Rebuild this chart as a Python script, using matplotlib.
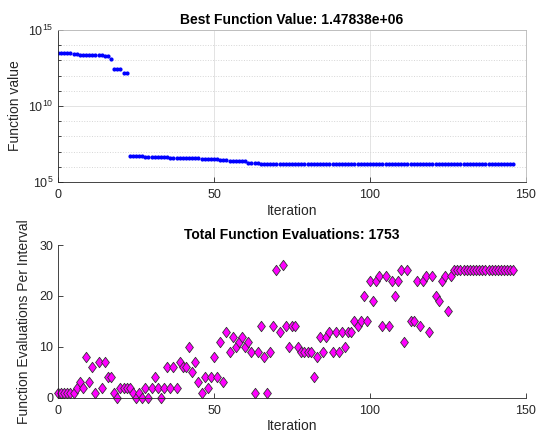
import matplotlib
matplotlib.use("Agg")
import matplotlib.pyplot as plt
import numpy as np
from matplotlib.ticker import NullFormatter

plt.rcParams['font.family'] = ['Liberation Sans', 'DejaVu Sans']

# best function value per iteration
best_f = [
    3.0e13, 3.0e13, 3.0e13, 3.0e13, 3.0e13,
    2.7e13, 2.7e13,
    2.2e13, 2.15e13, 2.15e13, 2.15e13, 2.15e13, 2.15e13, 2.15e13, 2.15e13, 2.1e13, 2.1e13,
    1.3e13,
    2.6e12, 2.6e12, 2.6e12,
    1.5e12, 1.5e12,
    5.2e6, 5.1e6, 5.0e6, 4.9e6, 4.8e6, 4.7e6, 4.6e6, 4.5e6,
    4.45e6, 4.4e6, 4.3e6, 4.25e6, 4.2e6, 4.1e6, 4.05e6, 4.0e6, 3.95e6, 3.9e6,
    3.85e6, 3.8e6, 3.75e6, 3.7e6, 3.65e6, 3.35e6, 3.3e6, 3.3e6, 3.3e6, 3.3e6,
    3.3e6,
    2.75e6, 2.75e6, 2.7e6,
    2.35e6, 2.35e6, 2.35e6, 2.35e6, 2.35e6, 2.35e6,
    1.75e6, 1.72e6,
    1.68e6, 1.66e6, 1.64e6, 1.62e6, 1.6e6, 1.59e6, 1.58e6, 1.57e6,
    1.56e6, 1.555e6, 1.55e6, 1.545e6, 1.54e6, 1.536e6, 1.532e6, 1.528e6, 1.525e6, 1.522e6,
    1.518e6, 1.516e6, 1.514e6, 1.512e6, 1.51e6, 1.508e6, 1.506e6, 1.504e6, 1.502e6, 1.5e6,
    1.499e6, 1.498e6, 1.497e6, 1.496e6, 1.495e6, 1.494e6, 1.493e6, 1.492e6, 1.491e6, 1.49e6,
    1.489e6, 1.4885e6, 1.488e6, 1.4875e6, 1.487e6, 1.4865e6, 1.486e6, 1.4855e6, 1.485e6, 1.4845e6,
    1.484e6, 1.4836e6, 1.4832e6, 1.4828e6, 1.4824e6, 1.482e6, 1.4817e6, 1.4814e6, 1.4811e6, 1.4808e6,
    1.4805e6, 1.4803e6, 1.4801e6, 1.4799e6, 1.4797e6, 1.4795e6, 1.4793e6, 1.4791e6, 1.479e6, 1.4789e6,
    1.4788e6, 1.4787e6, 1.4786e6, 1.4786e6, 1.4785e6, 1.4785e6, 1.4785e6, 1.4784e6, 1.4784e6, 1.4784e6,
    1.47839e6, 1.47839e6, 1.47838e6, 1.47838e6, 1.47838e6, 1.47838e6,
]

# function evaluations per interval
evals = [
    1, 1, 1, 1, 1, 1, 2, 3, 2, 8,
    3, 6, 1, 7, 2, 7, 4, 4, 1, 0,
    2, 2, 2, 2, 1, 0, 1, 0, 2, 0,
    2, 4, 2, 0, 2, 6, 2, 6, 2, 7,
    6, 6, 10, 5, 7, 3, 1, 4, 2, 4,
    8, 4, 11, 3, 13, 9, 12, 10, 11, 12,
    10, 11, 9, 1, 9, 14, 8, 1, 9, 14,
    25, 13, 26, 14, 10, 14, 14, 10, 9, 9,
    9, 9, 4, 8, 12, 9, 12, 13, 9, 13,
    9, 13, 10, 13, 13, 15, 14, 15, 20, 15,
    23, 19, 23, 24, 14, 24, 14, 23, 20, 23,
    25, 11, 25, 15, 15, 23, 14, 23, 24, 13,
    24, 20, 19, 23, 24, 17, 24, 25, 25, 25,
    25, 25, 25, 25, 25, 25, 25, 25, 25, 25,
    25, 25, 25, 25, 25, 25, 25,
]

iters = np.arange(len(best_f))
iters2 = np.arange(len(evals))

axcol = '#262626'

fig = plt.figure(figsize=(5.36, 4.34), dpi=100)

# --- top: best function value
ax1 = fig.add_axes([0.1082, 0.5806, 0.8731, 0.3502])
ax1.plot(iters, best_f, linestyle='none', marker='.', color='#0000ff', markersize=4)
ax1.set_yscale('log')
ax1.set_xlim(0, 150)
ax1.set_ylim(1e5, 1e15)
ax1.set_xticks([0, 50, 100, 150])
ax1.set_yticks([1e5, 1e10, 1e15])
ax1.set_yticks([10.0 ** k for k in range(6, 15) if k != 10], minor=True)
ax1.yaxis.set_minor_formatter(NullFormatter())
ax1.grid(True, which='major', color='#e3e3e3', linewidth=0.7)
ax1.grid(True, which='minor', axis='y', color='#d6d6d6', linestyle=':', linewidth=0.7)
ax1.set_axisbelow(True)
for s in ['left', 'bottom']:
    ax1.spines[s].set_color(axcol)
    ax1.spines[s].set_linewidth(0.6)
for s in ['top', 'right']:
    ax1.spines[s].set_color('#b8b8b8')
    ax1.spines[s].set_linewidth(0.6)
ax1.tick_params(which='both', direction='in', colors=axcol, labelsize=9, width=0.6)
ax1.tick_params(which='major', length=3.5)
ax1.tick_params(which='minor', length=2)
ax1.tick_params(axis='x', pad=5)
ax1.set_xlabel('Iteration', fontsize=10, color=axcol, labelpad=2)
ax1.set_ylabel('Function value', fontsize=10, color=axcol, labelpad=4)
ax1.set_title('Best Function Value: %g' % best_f[-1], fontsize=10, fontweight='bold', pad=4)

# --- bottom: evaluations per interval
ax2 = fig.add_axes([0.1082, 0.0836, 0.8731, 0.3518])
diamond = [(-0.75, 0), (0, 1), (0.75, 0), (0, -1), (-0.75, 0)]
ax2.plot(iters2, evals, linestyle='none', marker=diamond, markersize=7.5,
         markerfacecolor='#ff00ff', markeredgecolor='#333333', markeredgewidth=0.6)
ax2.set_xlim(0, 150)
ax2.set_ylim(0, 30)
ax2.set_xticks([0, 50, 100, 150])
ax2.set_yticks([0, 10, 20, 30])
ax2.spines['top'].set_visible(False)
ax2.spines['right'].set_visible(False)
for s in ['left', 'bottom']:
    ax2.spines[s].set_color(axcol)
    ax2.spines[s].set_linewidth(0.6)
ax2.tick_params(direction='in', colors=axcol, labelsize=9, width=0.6, length=3.5)
ax2.tick_params(axis='x', pad=5)
ax2.set_xlabel('Iteration', fontsize=10, color=axcol, labelpad=2)
ax2.set_ylabel('Function Evaluations Per Interval', fontsize=10, color=axcol, labelpad=6)
ax2.set_title('Total Function Evaluations: %d' % sum(evals), fontsize=10, fontweight='bold', pad=4)
for artist in ax2.lines:
    artist.set_clip_on(False)

fig.savefig('out.png', dpi=100)
